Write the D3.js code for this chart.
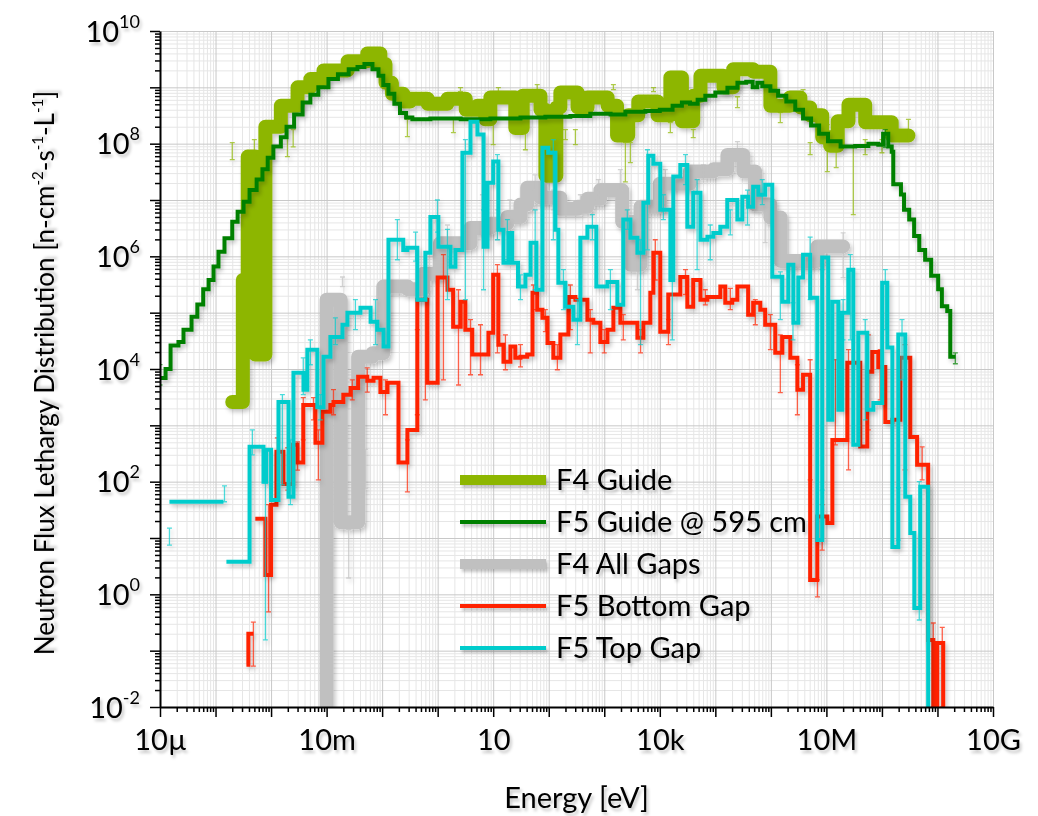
<!DOCTYPE html>
<html>
<head>
<meta charset="utf-8">
<script src="https://cdn.jsdelivr.net/npm/d3@7"></script>
<style>
  body { margin: 0; background: #fff; }
  svg { display: block; font-family: Lato, "Noto Sans", sans-serif; }
</style>
</head>
<body>
<div id="chart"></div>
<script>
// ---------------------------------------------------------------
// data: histogram bins are [lower energy edge (eV), flux]; the
// last bin runs up to the matching *End value. null = empty bin.
// error bars are [energy (eV), low, high].
// ---------------------------------------------------------------
const f4GuideBins = [
  [2.0e-4, 2.6e3], [3.1e-4, 3.8e5], [3.8e-4, 5.9e7], [5.2e-4, 1.8e4], [7.9e-4, 2.0e8],
  [1.5e-3, 4.7e8], [3.0e-3, 1.0e9], [5.1e-3, 1.4e9], [8.8e-3, 2.0e9], [2.4e-2, 2.9e9],
  [5.4e-2, 4.0e9], [9.3e-2, 2.6e9], [0.115, 1.2e9], [0.15, 7.7e8], [0.24, 5.6e8],
  [0.32, 6.3e8], [0.66, 5.1e8], [1.5, 6.3e8], [3.2, 4.0e8], [5.2, 4.7e8],
  [7.2, 2.7e8], [8.9, 6.6e8], [25, 1.9e8], [34, 7.1e8], [71, 4.0e8],
  [87, 2.7e7], [137, 4.4e8], [162, 8.1e8], [330, 4.4e8], [500, 6.6e8],
  [1.15e3, 4.7e8], [1.7e3, 1.4e8], [2.7e3, 3.2e8], [4.1e3, 5.6e8], [9.1e3, 3.2e8],
  [1.55e4, 1.5e9], [2.5e4, 2.5e8], [4.0e4, 7.1e8], [5.4e4, 1.6e9], [1.4e5, 1.0e9],
  [2.1e5, 2.1e9], [4.8e5, 1.9e9], [9.8e5, 4.7e8], [2.2e6, 6.6e8], [3.4e6, 4.4e8],
  [5.1e6, 3.2e8], [8.4e6, 1.3e8], [1.17e7, 9.2e7], [1.6e7, 2.5e8], [2.5e7, 4.9e8],
  [5.0e7, 2.4e8], [1.5e8, 1.4e8]
];
const f4GuideEnd = 3.0e8;
const f4GuideErr = [
  [2.0e-4, 5.2e7, 1.04e8], [5.0e-4, 6.4e7, 1.18e8], [1.48e-3, 2.36e8, 3.3e8], [1.97e-3, 5.9e7, 2.0e8],
  [2.5e-3, 8.8e7, 1.77e8], [0.285, 1.33e8, 2.7e8], [1.92, 1.57e8, 2.7e8], [2.57, 8.4e8, 9.9e8],
  [10, 9.6e7, 2.7e8], [12.4, 8.4e8, 9.9e8], [38, 7.8e7, 1.57e8], [62, 9.1e8, 1.12e9],
  [200, 1.18e8, 1.77e8], [302, 9.6e7, 1.77e8], [1.46e3, 9.1e8, 1.12e9], [2.4e3, 2.1e7, 1.04e8],
  [2.95e3, 4.6e7, 1.04e8], [7.7e3, 8.4e8, 9.9e8], [1.55e4, 1.57e8, 2.36e8], [4.0e4, 1.28e8, 1.77e8],
  [2.5e5, 4.36e8, 6.8e8], [1.48e6, 2.36e8, 3.55e8], [3.8e6, 7.7e8, 9.1e8], [5.1e6, 6.4e7, 1.04e8],
  [1.04e7, 3.2e7, 2.17e8], [1.5e7, 3.75e7, 8.8e7], [3.05e7, 5.5e6, 8.8e7], [5.0e7, 6.4e7, 1.18e8],
  [1.0e8, 6.9e7, 1.18e8], [3.0e8, 1.18e8, 2.7e8]
];

const f5GuideBins = [
  [1.0e-5, 6.9e3], [1.26e-5, 1.0e4], [1.55e-5, 2.6e4], [2.15e-5, 3.0e4], [2.65e-5, 5.0e4],
  [3.7e-5, 8.5e4], [4.7e-5, 1.4e5], [6.0e-5, 2.6e5], [7.5e-5, 3.8e5], [9.2e-5, 6.6e5],
  [1.13e-4, 1.2e6], [1.45e-4, 2.1e6], [2.0e-4, 4.1e6], [2.5e-4, 6.2e6], [3.2e-4, 9.3e6],
  [4.1e-4, 1.5e7], [5.5e-4, 2.3e7], [7.0e-4, 3.5e7], [8.7e-4, 5.6e7], [1.1e-3, 8.9e7],
  [1.5e-3, 1.3e8], [1.9e-3, 2.0e8], [2.6e-3, 3.3e8], [3.7e-3, 5.4e8], [5.1e-3, 7.4e8],
  [7.1e-3, 1.0e9], [1.08e-2, 1.4e9], [1.6e-2, 1.7e9], [2.5e-2, 2.1e9], [3.6e-2, 2.3e9],
  [4.8e-2, 2.6e9], [6.7e-2, 2.1e9], [8.6e-2, 1.6e9], [0.105, 1.1e9], [0.13, 7.7e8],
  [0.166, 5.1e8], [0.21, 3.5e8], [0.27, 2.9e8], [0.35, 2.7e8], [0.74, 2.8e8],
  [2.6, 2.7e8], [8.9, 2.8e8], [31, 2.9e8], [87, 3.0e8], [245, 3.1e8],
  [560, 3.4e8], [1.3e3, 3.3e8], [2.4e3, 3.7e8], [5.5e3, 3.8e8], [1.0e4, 4.0e8],
  [1.7e4, 4.7e8], [2.5e4, 5.4e8], [3.5e4, 5.1e8], [4.8e4, 6.0e8], [6.6e4, 7.1e8],
  [1.0e5, 8.1e8], [1.65e5, 9.8e8], [2.5e5, 1.2e9], [3.6e5, 1.25e9], [4.7e5, 1.0e9],
  [5.7e5, 1.2e9], [7.0e5, 1.05e9], [9.8e5, 8.7e8], [1.35e6, 7.1e8], [1.9e6, 5.6e8],
  [2.75e6, 4.0e8], [3.8e6, 2.8e8], [5.3e6, 2.1e8], [7.4e6, 1.5e8], [1.07e7, 1.1e8],
  [1.8e7, 8.9e7], [3.3e7, 9.1e7], [5.7e7, 1.0e8], [8.6e7, 9.6e7], [1.05e8, 1.5e8],
  [1.3e8, 8.9e7], [1.5e8, 7.2e7], [1.6e8, 1.9e7], [2.2e8, 1.25e7], [2.5e8, 6.7e6],
  [3.1e8, 4.5e6], [3.8e8, 2.3e6], [4.7e8, 1.3e6], [6.0e8, 8.7e5], [7.7e8, 4.5e5],
  [1.03e9, 2.6e5], [1.2e9, 1.3e5], [1.5e9, 1.07e5], [1.7e9, 1.65e4]
];
const f5GuideEnd = 2.1e9;
const f5GuideErr = [
  [1.0e-5, 5.2e3, 1.2e4], [1.15e8, 8.5e7, 1.77e8], [2.1e9, 1.24e4, 1.94e4]
];

const f4GapsBins = [
  [6.3e-3, 1e-3], [1.0e-2, 1.7e5], [1.8e-2, 19], [3.7e-2, 1.65e4], [6.7e-2, 1.9e4],
  [0.105, 2.9e5], [0.29, 2.6e5], [0.55, 4.9e5], [1.1, 1.7e6], [3.9, 3.2e6],
  [8.9, 3.8e6], [18, 5.0e6], [31, 8.3e6], [41, 1.65e7], [71, 1.1e7],
  [162, 7.0e6], [330, 7.6e6], [500, 1.05e7], [850, 1.5e7], [2.1e3, 4.1e6],
  [3.0e3, 7.1e5], [4.5e3, 7.6e6], [1.0e4, 1.95e7], [3.5e4, 3.2e7], [9.2e4, 3.5e7],
  [1.65e5, 6.3e7], [3.2e5, 3.2e7], [5.2e5, 8.3e6], [9.8e5, 4.9e6], [1.5e6, 8.3e5],
  [6.9e6, 1.5e6]
];
const f4GapsEnd = 2.0e7;
const f4GapsErr = [
  [2.5e-2, 1.95, 14], [3.6e-2, 71, 370], [5.0e-2, 75, 370], [1.93e-2, 2.9e5, 4.3e5],
  [1.5, 8.7e5, 3.6e6], [6.4, 3.0e6, 1.24e7], [11.9, 1.97e6, 6.7e6], [20, 3.6e6, 1.0e7],
  [57, 1.5e7, 2.8e7], [121, 6.7e6, 1.5e7], [162, 5.5e6, 1.24e7], [371, 5.5e6, 1.24e7],
  [783, 1.0e7, 2.3e7], [1.95e3, 1.5e7, 3.45e7], [3.95e3, 2.55e5, 3.0e6], [1.26e4, 1.5e7, 3.45e7],
  [6.1e4, 2.3e7, 4.2e7], [2.5e5, 7.8e7, 1.09e8], [7.9e5, 1.75e6, 5.9e6], [1.48e6, 1.75e6, 5.5e6],
  [2.0e7, 4.2e5, 2.6e6]
];

const bottomGapBins = [
  [3.6e-4, 5.6e-2], [3.9e-4, 0.2], [4.8e-4, null], [5.2e-4, 22], [7.9e-4, 2.2],
  [1.0e-3, 39], [1.25e-3, 340], [1.67e-3, 91], [2.5e-3, 450], [3.0e-3, 220],
  [3.8e-3, 2.3e3], [6.3e-3, 490], [8.4e-3, 1.75e3], [1.17e-2, 2.3e3], [1.33e-2, 2.6e3],
  [2.0e-2, 3.5e3], [2.7e-2, 4.6e3], [3.7e-2, 7.3e3], [5.4e-2, 6.2e3], [7.0e-2, 7.0e3],
  [9.3e-2, 3.9e3], [0.125, 5.7e3], [0.197, 220], [0.285, 830], [0.43, 1.7e5],
  [0.65, 5.7e3], [1.0, 4.2e5], [1.5, 2.55e5], [1.9, 5.6e4], [2.6, 1.56e5],
  [3.15, 5.0e4], [4.2, 1.8e4], [8.2, 4.4e4], [10, 4.7e5], [12.4, 2.7e4],
  [15.3, 1.34e4], [20.4, 2.5e4], [25, 1.58e4], [31, 1.65e4], [41, 1.8e4],
  [51, 2.25e5], [62, 1.13e5], [77, 8.1e4], [95, 2.9e4], [121, 1.58e4],
  [162, 4.1e4], [226, 1.9e5], [302, 1.7e5], [497, 7.5e4], [636, 6.6e4],
  [851, 3.0e4], [1.14e3, 5.0e4], [1.46e3, 1.22e5], [1.95e3, 6.6e4], [3.95e3, 3.6e4],
  [5.06e3, 6.6e4], [6.75e3, 2.25e5], [7.65e3, 1.16e6], [1.02e4, 4.6e4], [1.42e4, 2.1e5],
  [2.34e4, 4.3e5], [3.13e4, 1.27e5], [4.0e4, 3.8e5], [5.4e4, 1.7e5], [7.2e4, 1.9e5],
  [1.23e5, 2.9e5], [1.51e5, 1.5e5], [2.02e5, 1.7e5], [2.49e5, 2.9e5], [3.9e5, 9.2e4],
  [4.8e5, 1.5e5], [6.45e5, 1.13e5], [7.9e5, 6.1e4], [1.2e6, 1.94e4], [1.61e6, 3.7e4],
  [2.24e6, 1.58e4], [3.0e6, 4.3e3], [3.8e6, 7.9e3], [5.1e6, 1.8], [6.85e6, 24],
  [1.04e7, 18.5], [1.28e7, 550], [2.38e7, 1.29e4], [4.07e7, 420], [5.45e7, 8.9e3],
  [6.7e7, 2.0e4], [8.6e7, 1.09e4], [1.15e8, 1.15e3], [1.54e8, 1.25e3], [2.14e8, 1.58e4],
  [3.24e8, 620], [4.3e8, 200], [6.8e8, 0.155], [8.4e8, 1e-3], [9.9e8, 0.137],
  [1.27e9, 1e-3]
];
const bottomGapEnd = 1.44e9;
const bottomGapErr = [
  [4.8e-4, 0.053, 0.32], [9.0e-4, 0.49, 39], [1.3e-3, 99, 600], [2.0e-3, 71, 400],
  [3.0e-3, 160, 510], [3.8e-3, 550, 3.1e3], [5.8e-3, 1.25e3, 3.1e3], [7.1e-3, 108, 830],
  [1.33e-2, 1.54e3, 4.3e3], [2.9e-2, 2.84e3, 6.4e3], [5.4e-2, 3.9e3, 1.05e4], [0.115, 1.54e3, 6.4e3],
  [0.285, 66, 550], [0.43, 1.54e3, 5.0e4], [0.60, 2.84e3, 1.84e5], [1.27, 6.4e3, 1.07e6],
  [2.37, 5.2e3, 2.55e5], [3.9, 7.9e3, 7.5e4], [5.9, 7.9e3, 6.1e4], [11.9, 1.94e4, 7.1e5],
  [16.6, 9.7e3, 4.05e4], [31, 1.09e4, 2.7e4], [53, 1.13e5, 3.1e5], [87, 4.6e4, 1.13e5],
  [143, 9.7e3, 2.7e4], [245, 5.0e4, 3.1e5], [560, 1.94e4, 1.13e5], [1.0e3, 1.94e4, 5.0e4],
  [2.2e3, 3.3e4, 9.2e4], [4.5e3, 1.94e4, 5.0e4], [8.3e3, 3.8e5, 1.97e6], [1.43e4, 2.7e4, 7.5e4],
  [2.9e4, 2.1e5, 5.8e5], [6.6e4, 1.38e5, 2.55e5], [1.86e5, 1.13e5, 2.7e5], [5.25e5, 6.1e4, 1.7e5],
  [9.8e5, 2.2e4, 9.2e4], [1.48e6, 3.8e3, 4.05e4], [3.0e6, 1.54e3, 1.19e4], [5.1e6, 108, 1.46e4],
  [6.9e6, 0.9, 1.8], [8.4e6, 6.1, 39], [1.45e7, 450, 1.46e4], [2.5e7, 162, 2.2e4],
  [5.7e7, 830, 4.05e4], [9.3e7, 2.84e3, 2.2e4], [2.6e8, 162, 2.7e4], [5.3e8, 108, 415],
  [8.4e8, 0.01, 0.31], [1.22e9, 0.01, 0.26]
];

const topGapBins = [
  [1.48e-5, 44], [1.39e-4, null], [1.57e-4, 3.8], [4.1e-4, 415], [7.3e-4, 100],
  [8.2e-4, 370], [1.0e-3, 47.5], [1.36e-3, 2.6e3], [2.06e-3, 54], [2.53e-3, 8.6e3],
  [3.83e-3, 4.3e3], [4.5e-3, 2.2e4], [6.8e-3, 2.1e3], [8.8e-3, 1.65e4], [1.17e-2, 3.7e4],
  [1.93e-2, 6.1e4], [2.37e-2, 1.0e5], [4.07e-2, 1.22e5], [6.2e-2, 6.9e4], [8.2e-2, 5.0e4],
  [0.106, 2.5e4], [0.13, 1.97e6], [0.24, 1.3e6], [0.285, 1.42e6], [0.43, 1.7e5],
  [0.60, 1.16e6], [0.74, 5.0e6], [1.03, 1.48e6], [1.7, 6.5e5], [2.09, 1.3e6],
  [2.79, 6.9e7], [3.9, 2.46e8], [5.2, 1.45e8], [6.7, 1.48e6], [7.9, 2.03e7],
  [10, 4.8e7], [12.4, 2.97e6], [15.3, 7.7e5], [18.8, 2.6e6], [22, 7.7e5],
  [28, 2.9e5], [38, 4.7e5], [47, 1.74e6], [60, 2.55e5], [77, 8.5e7],
  [98, 6.9e7], [132, 2.97e6], [149, 3.4e5], [200, 1.27e5], [278, 7.5e4],
  [371, 2.14e6], [497, 3.35e6], [720, 2.9e5], [1.14e3, 3.5e5], [1.72e3, 1.38e5],
  [2.2e3, 4.5e6], [2.95e3, 2.14e6], [3.95e3, 1.16e6], [5.06e3, 8.95e6], [6.2e3, 6.1e7],
  [7.65e3, 4.4e7], [1.02e4, 6.7e6], [1.55e4, 3.8e5], [1.75e4, 2.6e7], [2.34e4, 4.2e7],
  [3.13e4, 3.35e6], [4.0e4, 1.35e7], [5.4e4, 1.97e6], [7.2e4, 2.23e6], [9.2e4, 2.6e6],
  [1.23e5, 3.35e6], [1.64e5, 1.0e7], [2.49e5, 4.5e6], [3.06e5, 1.14e7], [3.9e5, 7.6e6],
  [4.8e5, 1.72e7], [5.95e5, 1.24e7], [7.9e5, 1.87e7], [1.06e6, 4.35e5], [1.61e6, 1.56e5],
  [2.06e6, 7.1e5], [2.54e6, 6.6e4], [3.12e6, 4.2e5], [3.8e6, 1.07e6], [5.1e6, 1.84e5],
  [6.85e6, 9.2], [8.4e6, 9.5e5], [1.08e7, 1.25e3], [1.28e7, 1.56e5], [1.64e7, 1.9e3],
  [1.93e7, 1.0e5], [2.48e7, 5.8e5], [3.05e7, 450], [3.75e7, 4.4e4], [5.45e7, 1.9e3],
  [7.0e7, 2.5e3], [1.01e8, 3.4e5], [1.25e8, 2.4e4], [1.54e8, 6.95], [1.97e8, 4.1e4],
  [2.63e8, 54], [3.24e8, 12.3], [3.83e8, 0.57], [4.9e8, 81], [6.8e8, 1e-3]
];
const topGapEnd = 7.4e8;
const topGapErr = [
  [1.48e-5, 7.5, 15], [1.45e-4, 44, 84], [7.9e-4, 0.155, 95], [4.6e-4, 300, 830],
  [1.6e-3, 88, 3.5e3], [2.23e-3, 39, 550], [3.8e-3, 3.5e3, 1.58e4], [5.1e-3, 1.19e4, 3.3e4],
  [7.7e-3, 1.25e3, 3.5e3], [1.44e-2, 2.7e4, 8.1e4], [3.3e-2, 5.0e4, 1.7e5], [7.6e-2, 2.7e4, 1.7e5],
  [0.188, 8.7e5, 4.5e6], [0.40, 8.2e5, 2.7e6], [0.99, 2.7e6, 1.0e7], [1.5, 1.7e5, 3.0e6],
  [3.16, 1.7e5, 1.18e8], [6.7, 2.55e5, 6.7e6], [11.9, 1.97e6, 6.4e7], [18, 8.7e5, 4.5e6],
  [31, 1.7e5, 4.7e5], [57, 2.55e5, 6.7e6], [121, 1.97e6, 1.18e8], [184, 1.13e5, 5.8e5],
  [328, 2.7e4, 1.7e5], [611, 1.97e6, 5.5e6], [1.29e3, 1.13e5, 5.8e5], [2.6e3, 3.0e6, 6.7e6],
  [4.5e3, 2.7e4, 1.97e6], [6.0e3, 1.3e6, 7.8e7], [1.16e4, 4.5e6, 1.24e7], [1.68e4, 3.3e4, 8.7e5],
  [2.9e4, 1.87e7, 6.4e7], [4.7e4, 5.8e5, 2.3e7], [8.1e4, 8.7e5, 3.6e6], [1.86e5, 2.4e6, 6.7e6],
  [3.8e5, 3.6e6, 1.5e7], [7.0e5, 8.3e6, 2.3e7], [1.48e6, 7.5e4, 5.3e5], [2.5e6, 3.3e4, 1.5e5],
  [5.1e6, 1.7e5, 2.2e6], [8.4e6, 71, 5.8e5], [2.0e7, 3.3e4, 1.7e5], [2.7e7, 3.3e4, 1.07e6],
  [5.0e7, 1.25e3, 7.5e4], [1.15e8, 5.0e4, 5.8e5], [2.3e8, 6.4e3, 7.5e4], [1.97e8, 9.2, 78],
  [4.7e8, 0.35, 100]
];

// axis labels
const xLabelExp = [-5, -2, 1, 4, 7, 10];
const xLabelText = ["10µ", "10m", "10", "10k", "10M", "10G"];
const yLabelExp = [-2, 0, 2, 4, 6, 8, 10];

// ---------------------------------------------------------------
// series styles (drawing order = legend order)
// ---------------------------------------------------------------
const series = [
  { name: "F4 Guide", bins: f4GuideBins, end: f4GuideEnd, err: f4GuideErr,
    color: "#8db600", width: 14, legendWidth: 10, join: "round" },
  { name: "F5 Guide @ 595 cm", bins: f5GuideBins, end: f5GuideEnd, err: f5GuideErr,
    color: "#008000", width: 4, legendWidth: 4, join: "miter" },
  { name: "F4 All Gaps", bins: f4GapsBins, end: f4GapsEnd, err: f4GapsErr,
    color: "#c0c0c0", width: 14, legendWidth: 10, join: "round" },
  { name: "F5 Bottom Gap", bins: bottomGapBins, end: bottomGapEnd, err: bottomGapErr,
    color: "#ff2200", width: 4, legendWidth: 4, join: "miter" },
  { name: "F5 Top Gap", bins: topGapBins, end: topGapEnd, err: topGapErr,
    color: "#00cccc", width: 4, legendWidth: 4, join: "miter" }
];

// ---------------------------------------------------------------
// canvas
// ---------------------------------------------------------------
const W = 1038, H = 816;
const margin = { t: 31, r: 45, b: 109, l: 160 };
const w = W - margin.l - margin.r;
const h = H - margin.t - margin.b;

const svg = d3.select("#chart")
  .append("svg")
  .attr("width", W)
  .attr("height", H)
  .attr("viewBox", [0, 0, W, H]);

// soft drop shadows; a big user-space region so that flat shapes
// and translated groups keep their shadow
const defs = svg.append("defs");
const addShadow = (id, std, opacity) => defs.append("filter")
  .attr("id", id)
  .attr("filterUnits", "userSpaceOnUse")
  .attr("x", -2 * W).attr("y", -2 * H).attr("width", 5 * W).attr("height", 5 * H)
  .append("feDropShadow")
  .attr("dx", 2).attr("dy", 3).attr("stdDeviation", std)
  .attr("flood-color", "#000").attr("flood-opacity", opacity);
addShadow("shadow", 2, 0.22);
addShadow("textShadow", 1.6, 0.22);

defs.append("clipPath")
  .attr("id", "plot-clip")
  .append("rect")
  .attr("x", margin.l).attr("y", margin.t)
  .attr("width", w).attr("height", h);

// scales
const x = d3.scaleLog().domain([1e-5, 1e10]).range([margin.l, margin.l + w]);
const y = d3.scaleLog().domain([1e-2, 1e10]).range([margin.t + h, margin.t]);

// decade / sub-decade tick values
const xMajor = [], xMinor = [], yMajor = [], yMinor = [];
for (let p = -5; p <= 10; p++) {
  xMajor.push(Math.pow(10, p));
  if (p < 10) for (let m = 2; m <= 9; m++) xMinor.push(m * Math.pow(10, p));
}
for (let p = -2; p <= 10; p++) {
  yMajor.push(Math.pow(10, p));
  if (p < 10) for (let m = 2; m <= 9; m++) yMinor.push(m * Math.pow(10, p));
}
const expOf = v => Math.round(Math.log10(v));

// ---------------------------------------------------------------
// grids
// ---------------------------------------------------------------
const grids = svg.append("g").attr("class", "grids");
const gridStyle = (color) => (g) => {
  g.select(".domain").remove();
  g.selectAll("line").attr("stroke", color).attr("stroke-width", 1);
};
grids.append("g")
  .attr("transform", `translate(0,${margin.t + h})`)
  .call(d3.axisBottom(x).tickValues(xMinor).tickSizeInner(-h).tickSizeOuter(0).tickFormat(""))
  .call(gridStyle("#e6e6e6"));
grids.append("g")
  .attr("transform", `translate(${margin.l},0)`)
  .call(d3.axisLeft(y).tickValues(yMinor).tickSizeInner(-w).tickSizeOuter(0).tickFormat(""))
  .call(gridStyle("#e6e6e6"));
grids.append("g")
  .attr("transform", `translate(0,${margin.t + h})`)
  .call(d3.axisBottom(x).tickValues(xMajor).tickSizeInner(-h).tickSizeOuter(0).tickFormat(""))
  .call(gridStyle("#c8c8c8"));
grids.append("g")
  .attr("transform", `translate(${margin.l},0)`)
  .call(d3.axisLeft(y).tickValues(yMajor).tickSizeInner(-w).tickSizeOuter(0).tickFormat(""))
  .call(gridStyle("#c8c8c8"));

// ---------------------------------------------------------------
// histograms + error bars
// ---------------------------------------------------------------
function stepPoints(bins, end) {
  const pts = [];
  bins.forEach(([e0, v], i) => {
    const e1 = i < bins.length - 1 ? bins[i + 1][0] : end;
    if (v == null) { pts.push(null); return; }
    pts.push([e0, v], [e1, v]);
  });
  return pts;
}

const lineGenerator = d3.line()
  .defined(d => d != null)
  .x(d => x(d[0]))
  .y(d => y(d[1]));

function errorPath(err) {
  const cap = 2.5;
  return err.map(([e, lo, hi]) => {
    const px = x(e), y0 = y(lo), y1 = y(hi);
    return `M${px},${y0}V${y1}M${px - cap},${y0}H${px + cap}M${px - cap},${y1}H${px + cap}`;
  }).join("");
}

const content = svg.append("g")
  .attr("class", "content")
  .attr("clip-path", "url(#plot-clip)");

series.forEach(s => {
  const g = content.append("g").attr("filter", "url(#shadow)");
  g.append("path")
    .attr("d", lineGenerator(stepPoints(s.bins, s.end)))
    .attr("fill", "none")
    .attr("stroke", s.color)
    .attr("stroke-width", s.width)
    .attr("stroke-linejoin", s.join)
    .attr("stroke-linecap", s.join === "round" ? "round" : "butt");
  g.append("path")
    .attr("d", errorPath(s.err))
    .attr("fill", "none")
    .attr("stroke", s.color)
    .attr("stroke-opacity", 0.7)
    .attr("stroke-width", 1.3);
});

// ---------------------------------------------------------------
// axes
// ---------------------------------------------------------------
const axes = svg.append("g").attr("class", "axes");

const ax = axes.append("g")
  .attr("transform", `translate(0,${margin.t + h})`);
ax.append("g")
  .call(d3.axisBottom(x).tickValues(xMinor).tickSizeInner(5).tickSizeOuter(0).tickFormat(""))
  .call(g => g.select(".domain").remove());
ax.append("g")
  .call(d3.axisBottom(x).tickValues(xMajor).tickSizeInner(10).tickSizeOuter(0).tickPadding(12)
    .tickFormat(v => {
      const i = xLabelExp.indexOf(expOf(v));
      return i >= 0 ? xLabelText[i] : "";
    }))
  .call(g => g.attr("font-size", 29).attr("font-family", null))
  .call(g => g.selectAll(".tick text").attr("filter", "url(#textShadow)"));
ax.selectAll("line").attr("stroke", "#000").attr("stroke-width", 1.5);
ax.selectAll(".domain").attr("stroke", "#000").attr("stroke-width", 2);

const ay = axes.append("g")
  .attr("transform", `translate(${margin.l},0)`);
ay.append("g")
  .call(d3.axisLeft(y).tickValues(yMinor).tickSizeInner(5).tickSizeOuter(0).tickFormat(""))
  .call(g => g.select(".domain").remove());
const ayMajor = ay.append("g")
  .call(d3.axisLeft(y).tickValues(yMajor).tickSizeInner(10).tickSizeOuter(0).tickFormat(""))
  .call(g => g.attr("font-size", 29).attr("font-family", null));
ay.selectAll("line").attr("stroke", "#000").attr("stroke-width", 1.5);
ay.selectAll(".domain").attr("stroke", "#000").attr("stroke-width", 2);

// y tick labels 10^n with superscript (major ticks only)
ayMajor.selectAll(".tick")
  .filter(v => yLabelExp.includes(expOf(v)))
  .append("text")
  .attr("x", -20)
  .attr("y", 10)
  .attr("fill", "#000")
  .attr("text-anchor", "end")
  .attr("filter", "url(#textShadow)")
  .call(t => t.append("tspan").text("10"))
  .call(t => t.append("tspan")
    .attr("dy", -14)
    .attr("font-size", 18)
    .text(v => String(expOf(v))));

// axis titles
svg.append("text")
  .attr("x", margin.l + w / 2)
  .attr("y", 808)
  .attr("text-anchor", "middle")
  .attr("font-size", 29)
  .attr("filter", "url(#textShadow)")
  .text("Energy [eV]");

const yTitle = svg.append("text")
  .attr("transform", `translate(54,${margin.t + h / 2 + 4}) rotate(-90)`)
  .attr("text-anchor", "middle")
  .attr("font-size", 26)
  .attr("filter", "url(#textShadow)");
[["Neutron Flux Lethargy Distribution [n-cm", 0], ["-2", -11], ["-s", 11], ["-1", -11],
 ["-L", 11], ["-1", -11], ["]", 11]].forEach(([txt, dy]) => {
  yTitle.append("tspan")
    .attr("dy", dy)
    .attr("font-size", dy < 0 ? 15 : 26)
    .text(txt);
});

// ---------------------------------------------------------------
// legend
// ---------------------------------------------------------------
const legend = svg.append("g")
  .attr("class", "legend")
  .attr("transform", "translate(460,480)");
const rows = legend.selectAll("g")
  .data(series)
  .join("g")
  .attr("transform", (d, i) => `translate(0,${i * 42})`)
  .attr("filter", "url(#textShadow)");
rows.append("rect")
  .attr("x", 0).attr("width", 86)
  .attr("y", d => -d.legendWidth / 2)
  .attr("height", d => d.legendWidth)
  .attr("fill", d => d.color);
rows.append("text")
  .attr("x", 96)
  .attr("y", 10)
  .attr("font-size", 29)
  .text(d => d.name);
</script>
</body>
</html>
